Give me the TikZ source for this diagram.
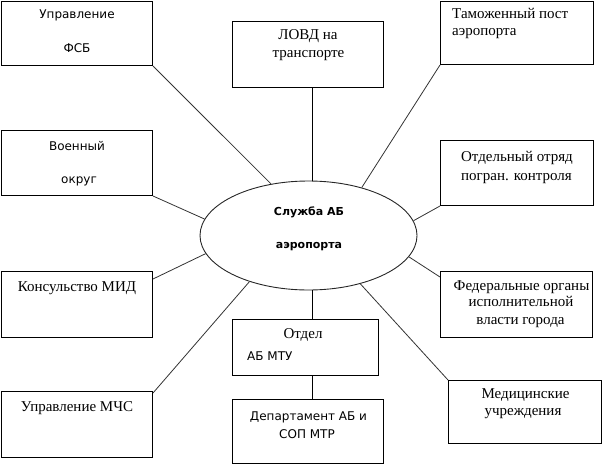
\documentclass[tikz,border=0pt]{standalone}
\usepackage{fontspec}
\setmainfont{Liberation Serif}
\newfontfamily\dvsans{DejaVu Sans}
\usetikzlibrary{shapes.geometric}
\begin{document}
\begin{tikzpicture}[x=1pt,y=-1pt,
  box/.style={draw=black, line width=1pt, rectangle, inner sep=0pt, anchor=north west},
  serif/.style={font=\fontsize{15}{17}\selectfont, inner sep=0pt, anchor=base},
  sans/.style={font=\dvsans\fontsize{12}{14}\selectfont, inner sep=0pt, anchor=base},
  bsans/.style={font=\dvsans\bfseries\fontsize{11}{13}\selectfont, inner sep=0pt, anchor=base},
  link/.style={draw=black!80, line width=0.8pt}]
\useasboundingbox (0,0) rectangle (602,466);
% boxes
\node[box, minimum width=151, minimum height=64] (fsb) at (1,1) {};
\node[box, minimum width=151, minimum height=66] (lovd) at (232,21) {};
\node[box, minimum width=153, minimum height=63] (tam) at (440,1) {};
\node[box, minimum width=151, minimum height=65] (voen) at (1,130) {};
\node[box, minimum width=153, minimum height=65] (otd) at (440,140) {};
\node[box, minimum width=151, minimum height=66] (kons) at (1,271) {};
\node[box, minimum width=151, minimum height=66] (mchs) at (1,391) {};
\node[box, minimum width=146, minimum height=56] (otdel) at (232,319) {};
\node[box, minimum width=151, minimum height=64] (dep) at (232,399) {};
\node[box, minimum width=152, minimum height=66] (fed) at (440,271) {};
\node[box, minimum width=153, minimum height=63] (med) at (448,380) {};
% ellipse
\node[draw=black!85, line width=0.9pt, ellipse, minimum width=217, minimum height=109, inner sep=0pt] (el) at (308.5,235.5) {};
\coordinate (sp) at (312,0);
% texts
\node[sans] (t1) at (77,18.5) {Управление};
\node[sans] (t2) at (77,52) {ФСБ};
\node[serif] (t3) at (308,39) {ЛОВД на};
\node[serif] (t4) at (308.5,57) {транспорте};
\node[serif, anchor=base west] (t5) at (452,18.3) {Таможенный пост};
\node[serif, anchor=base west] (t6) at (452,35) {аэропорта};
\node[sans] (t7) at (77,150) {Военный};
\node[sans] (t8) at (79,183) {округ};
\node[serif] (t9) at (517,161.7) {Отдельный отряд};
\node[serif] (t10) at (516.5,180) {погран. контроля};
\node[bsans] (t11) at (309,215) {Служба АБ};
\node[bsans] (t12) at (309,248) {аэропорта};
\node[serif] (t13) at (77,291.7) {Консульство МИД};
\node[serif] (t14) at (77,411.7) {Управление МЧС};
\node[serif] (t15) at (303,338) {Отдел};
\node[sans, anchor=base west] (t16) at (247,360.7) {АБ МТУ};
\node[sans] (t17) at (308.5,420) {Департамент АБ и};
\node[sans] (t18) at (307,438) {СОП МТР};
\node[serif] (t19) at (521.5,290) {Федеральные органы};
\node[serif] (t20) at (521,306) {исполнительной};
\node[serif] (t21) at (520.5,324) {власти города};
\node[serif] (t22) at (525.5,398) {Медицинские};
\node[serif] (t23) at (523,415) {учреждения};
% connectors
\draw[link] (fsb.south east) -- (el.126.8);
\draw[link] (voen.south east) -- (el.171.6);
\draw[link] ([yshift=-8pt]kons.north east) -- (el.190.9);
\draw[link] ([yshift=-2pt]mchs.north east) -- (el.218.5);
\draw[link] (tam.south west) -- (el.42.2);
\draw[link] (otd.south west) -- (el.8.4);
\draw[link] ([yshift=-6pt]fed.north west) -- (el.348);
\draw[link] (med.north west) -- (el.317.3);
\draw[line width=1pt] (lovd.south -| sp) -- (el.north -| sp);
\draw[line width=1pt] (el.south -| sp) -- (otdel.north -| sp);
\draw[line width=1pt] (otdel.south -| sp) -- (dep.north -| sp);
\end{tikzpicture}
\end{document}
